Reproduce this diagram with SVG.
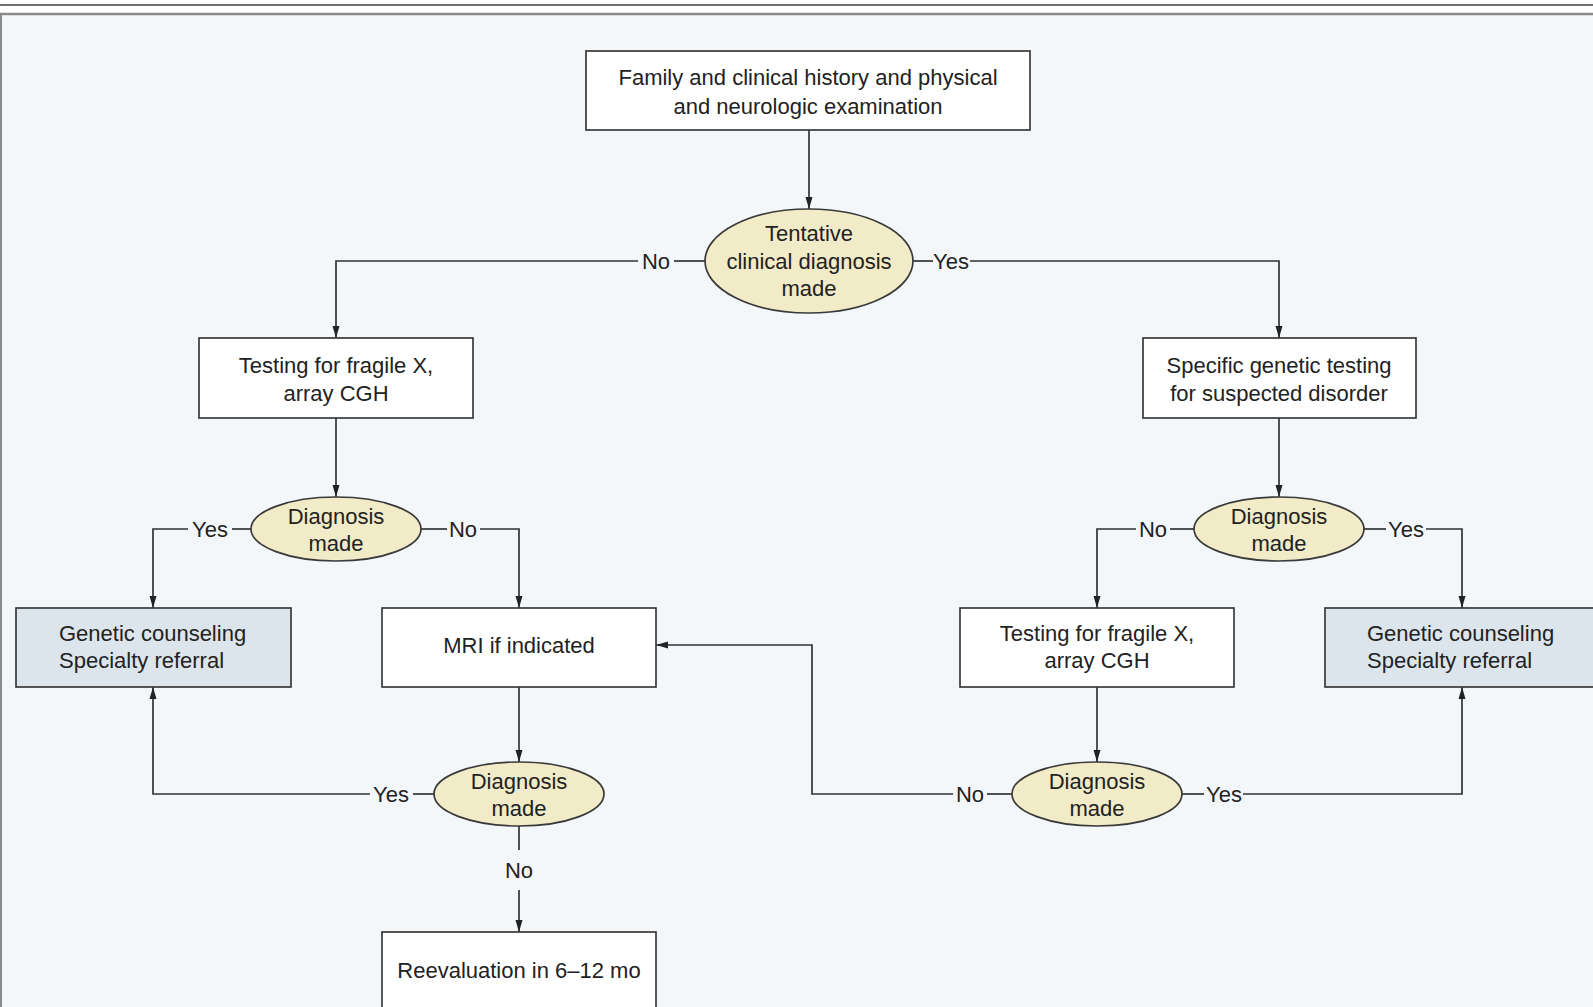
<svg xmlns="http://www.w3.org/2000/svg" width="1593" height="1007" viewBox="0 0 1593 1007">
<defs>
<marker id="ah" viewBox="0 0 12 8" refX="12" refY="4" markerWidth="12" markerHeight="8" markerUnits="userSpaceOnUse" orient="auto">
<path d="M0,0.5 L12,4 L0,7.5 Z" fill="#222"/>
</marker>
<style>
.bx{fill:#ffffff;stroke:#3a3a3a;stroke-width:1.7}
.gc{fill:#dde5ec;stroke:#3a3a3a;stroke-width:1.7}
.el{fill:#f1ebc8;stroke:#3a3a3a;stroke-width:1.7}
.t{font-family:"Liberation Sans",Arial,sans-serif;font-size:22px;fill:#222;text-anchor:middle;dominant-baseline:central}
.tl{text-anchor:start}
.ln{fill:none;stroke:#333;stroke-width:1.7}
.ar{marker-end:url(#ah)}
</style>
</defs>
<rect x="0" y="0" width="1593" height="1007" fill="#ffffff"/>
<rect x="0" y="15" width="1593" height="992" fill="#f4f7fa"/>
<line x1="0" y1="5" x2="1593" y2="5" stroke="#707070" stroke-width="2"/>
<line x1="0" y1="14" x2="1593" y2="14" stroke="#8a8a8a" stroke-width="2.5"/>
<line x1="1" y1="14" x2="1" y2="1007" stroke="#8a8a8a" stroke-width="2"/>

<g id="connectors">
<path class="ln ar" d="M809,130 V209"/>
<path class="ln" d="M705,261 H674"/>
<path class="ln ar" d="M638,261 H336 V338"/>
<path class="ln" d="M913,261 H933"/>
<path class="ln ar" d="M970,261 H1279 V338"/>
<path class="ln ar" d="M336,418 V497"/>
<path class="ln" d="M251,529 H232"/>
<path class="ln ar" d="M188,529 H153 V608"/>
<path class="ln" d="M421,529 H447"/>
<path class="ln ar" d="M480,529 H519 V608"/>
<path class="ln ar" d="M519,687 V762"/>
<path class="ln" d="M434,794 H413"/>
<path class="ln ar" d="M370,794 H153 V687"/>
<path class="ln" d="M519,826 V850"/>
<path class="ln ar" d="M519,890 V932"/>
<path class="ln ar" d="M1279,418 V497"/>
<path class="ln" d="M1194,529 H1170"/>
<path class="ln ar" d="M1136,529 H1097 V608"/>
<path class="ln" d="M1364,529 H1386"/>
<path class="ln ar" d="M1426,529 H1462 V608"/>
<path class="ln ar" d="M1097,687 V762"/>
<path class="ln" d="M1012,794 H987"/>
<path class="ln ar" d="M953,794 H812 V645 H656"/>
<path class="ln" d="M1182,794 H1204"/>
<path class="ln ar" d="M1243,794 H1462 V687"/>
<text class="t" x="656" y="261">No</text>
<text class="t" x="951" y="261">Yes</text>
<text class="t" x="210" y="529">Yes</text>
<text class="t" x="463" y="529">No</text>
<text class="t" x="1153" y="529">No</text>
<text class="t" x="1406" y="529">Yes</text>
<text class="t" x="391" y="794">Yes</text>
<text class="t" x="519" y="870">No</text>
<text class="t" x="970" y="794">No</text>
<text class="t" x="1224" y="794">Yes</text>
</g>

<g id="n-history">
<rect class="bx" x="586" y="51" width="444" height="79"/>
<text class="t" x="808" y="77">Family and clinical history and physical</text>
<text class="t" x="808" y="106">and neurologic examination</text>
</g>
<g id="n-tentative">
<ellipse class="el" cx="809" cy="261" rx="104" ry="52"/>
<text class="t" x="809" y="233">Tentative</text>
<text class="t" x="809" y="261">clinical diagnosis</text>
<text class="t" x="809" y="288">made</text>
</g>
<g id="n-test-left">
<rect class="bx" x="199" y="338" width="274" height="80"/>
<text class="t" x="336" y="365">Testing for fragile X,</text>
<text class="t" x="336" y="393">array CGH</text>
</g>
<g id="n-specific">
<rect class="bx" x="1143" y="338" width="273" height="80"/>
<text class="t" x="1279" y="365">Specific genetic testing</text>
<text class="t" x="1279" y="393">for suspected disorder</text>
</g>
<g id="n-diag-l1">
<ellipse class="el" cx="336" cy="529" rx="85" ry="32"/>
<text class="t" x="336" y="516">Diagnosis</text>
<text class="t" x="336" y="543">made</text>
</g>
<g id="n-diag-r1">
<ellipse class="el" cx="1279" cy="529" rx="85" ry="32"/>
<text class="t" x="1279" y="516">Diagnosis</text>
<text class="t" x="1279" y="543">made</text>
</g>
<g id="n-gc-left">
<rect class="gc" x="16" y="608" width="275" height="79"/>
<text class="t tl" x="59" y="633">Genetic counseling</text>
<text class="t tl" x="59" y="660">Specialty referral</text>
</g>
<g id="n-mri">
<rect class="bx" x="382" y="608" width="274" height="79"/>
<text class="t" x="519" y="645">MRI if indicated</text>
</g>
<g id="n-test-right">
<rect class="bx" x="960" y="608" width="274" height="79"/>
<text class="t" x="1097" y="633">Testing for fragile X,</text>
<text class="t" x="1097" y="660">array CGH</text>
</g>
<g id="n-gc-right">
<rect class="gc" x="1325" y="608" width="280" height="79"/>
<text class="t tl" x="1367" y="633">Genetic counseling</text>
<text class="t tl" x="1367" y="660">Specialty referral</text>
</g>
<g id="n-diag-l2">
<ellipse class="el" cx="519" cy="794" rx="85" ry="32"/>
<text class="t" x="519" y="781">Diagnosis</text>
<text class="t" x="519" y="808">made</text>
</g>
<g id="n-diag-r2">
<ellipse class="el" cx="1097" cy="794" rx="85" ry="32"/>
<text class="t" x="1097" y="781">Diagnosis</text>
<text class="t" x="1097" y="808">made</text>
</g>
<g id="n-reeval">
<rect class="bx" x="382" y="932" width="274" height="90"/>
<text class="t" x="519" y="970">Reevaluation in 6–12 mo</text>
</g>
</svg>
